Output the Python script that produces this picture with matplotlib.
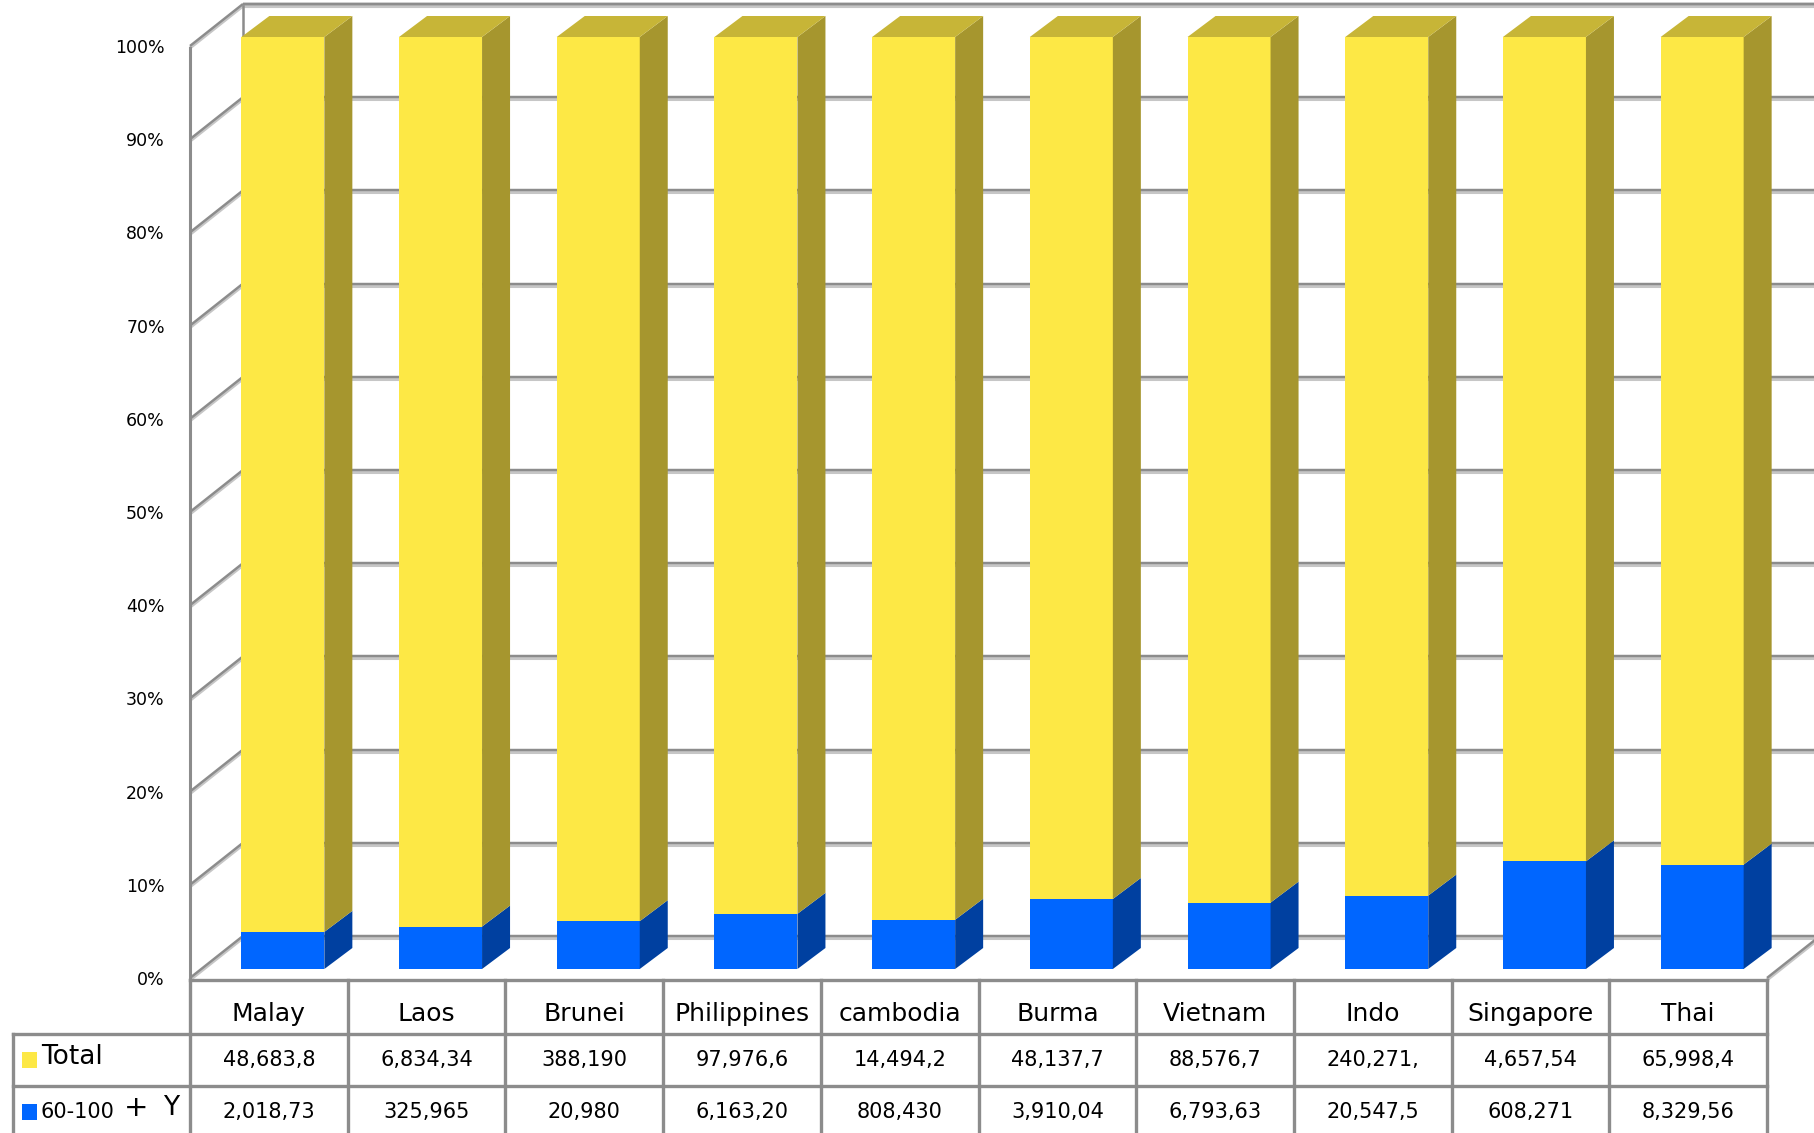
import matplotlib
matplotlib.use("Agg")
import matplotlib.pyplot as plt

countries = ["Malay", "Laos", "Brunei", "Philippines", "cambodia",
             "Burma", "Vietnam", "Indo", "Singapore", "Thai"]
total_text = ["48,683,8", "6,834,34", "388,190", "97,976,6", "14,494,2",
              "48,137,7", "88,576,7", "240,271,", "4,657,54", "65,998,4"]
old_text = ["2,018,73", "325,965", "20,980", "6,163,20", "808,430",
            "3,910,04", "6,793,63", "20,547,5", "608,271", "8,329,56"]
total = [48683.8, 6834.34, 388.190, 97976.6, 14494.2,
         48137.7, 88576.7, 240271.0, 4657.54, 65998.4]
old = [2018.73, 325.965, 20.980, 6163.20, 808.430,
       3910.04, 6793.63, 20547.5, 608.271, 8329.56]
yticks = [0, 10, 20, 30, 40, 50, 60, 70, 80, 90, 100]

plt.rcParams['font.family'] = ['DejaVu Sans']

fig = plt.figure(figsize=(18.14, 11.33), dpi=100)
ax = fig.add_axes([190 / 1814, 153 / 1133, 1577 / 1814, 932 / 1133])
ax.set_xlim(0, 10)
ax.set_ylim(0, 100)
ax.axis('off')

# oblique depth (data units)
px_x = 10 / 1577
px_y = 100 / 932
wall_dx, wall_dy = 53 * px_x, 42 * px_y
bar_ox, bar_oy = 14 * px_x, 11 * px_y
bar_dx, bar_dy = 28 * px_x, 21 * px_y
bar_w = 83 * px_x

grid_dark = '#8c8c8c'
grid_light = '#c6c6c6'

def gline(xs, ys, lw=2.2, z=1):
    ax.plot(xs, ys, color=grid_light, lw=lw, clip_on=False, zorder=z,
            solid_capstyle='butt')
    ax.plot(xs, [v + 0.22 for v in ys], color=grid_dark, lw=lw * 0.8,
            clip_on=False, zorder=z + 0.1, solid_capstyle='butt')

# back wall + left wall
for t in yticks:
    gline([wall_dx, 10 + wall_dx + 0.2], [t + wall_dy, t + wall_dy])
    gline([0, wall_dx], [t, t + wall_dy])
gline([wall_dx, 10 + wall_dx + 0.2], [100 + wall_dy, 100 + wall_dy])
ax.plot([0, 0], [0, 100], color=grid_dark, lw=2.2, clip_on=False, zorder=1)
ax.plot([wall_dx, wall_dx], [wall_dy, 100 + wall_dy], color=grid_dark, lw=1.8,
        clip_on=False, zorder=1)
# floor right edge
gline([10, 10 + wall_dx], [0, wall_dy], z=1)

for t in yticks:
    ax.text(-0.16, t, f"{t}%", ha='right', va='center', fontsize=12.5,
            clip_on=False)

yel_front, yel_top, yel_side = '#fde845', '#c7b537', '#a6962e'
blu_front, blu_side = '#0066ff', '#0040a0'

for i in range(len(countries)):
    pct = old[i] / (old[i] + total[i]) * 100
    x0 = i + 0.5 - bar_w / 2 + bar_ox
    x1 = x0 + bar_w
    y0 = bar_oy
    ym = bar_oy + pct
    y1 = bar_oy + 100
    # blue segment
    ax.fill([x0, x1, x1, x0], [y0, y0, ym, ym], color=blu_front, lw=0,
            zorder=3, clip_on=False)
    ax.fill([x1, x1 + bar_dx, x1 + bar_dx, x1],
            [y0, y0 + bar_dy, ym + bar_dy, ym], color=blu_side, lw=0,
            zorder=3, clip_on=False)
    # yellow segment
    ax.fill([x0, x1, x1, x0], [ym, ym, y1, y1], color=yel_front, lw=0,
            zorder=3, clip_on=False)
    ax.fill([x1, x1 + bar_dx, x1 + bar_dx, x1],
            [ym, ym + bar_dy, y1 + bar_dy, y1], color=yel_side, lw=0,
            zorder=3, clip_on=False)
    ax.fill([x0, x1, x1 + bar_dx, x0 + bar_dx],
            [y1, y1, y1 + bar_dy, y1 + bar_dy], color=yel_top, lw=0,
            zorder=3, clip_on=False)

# data table
r0 = 0.0
r1 = -54 * px_y
r2 = -106 * px_y
r3 = -160 * px_y
left = -177 * px_x
tc = '#8c8c8c'
ax.plot([0, 10], [r0, r0], color=tc, lw=2.4, clip_on=False, zorder=4)
for y in (r1, r2):
    ax.plot([left, 10], [y, y], color=tc, lw=2.4, clip_on=False, zorder=4)
for i in range(11):
    ax.plot([i, i], [r0, r3], color=tc, lw=2.4, clip_on=False, zorder=4)
ax.plot([left, left], [r1, r3], color=tc, lw=2.4, clip_on=False, zorder=4)

h_y = (r0 + r1) / 2 - 0.8
t_y = (r1 + r2) / 2
o_y = (r2 + r3) / 2 + 0.1
for i, c in enumerate(countries):
    ax.text(i + 0.5, h_y, c, ha='center', va='center', fontsize=18,
            clip_on=False)
    ax.text(i + 0.5, t_y, total_text[i], ha='center', va='center',
            fontsize=15, clip_on=False)
    ax.text(i + 0.5, o_y, old_text[i], ha='center', va='center',
            fontsize=15, clip_on=False)

# row labels with legend keys
sq = 15
ax.fill([left + 9 * px_x, left + (9 + sq) * px_x, left + (9 + sq) * px_x, left + 9 * px_x],
        [t_y - 8 * px_y, t_y - 8 * px_y, t_y + 8 * px_y, t_y + 8 * px_y],
        color=yel_front, lw=0, clip_on=False, zorder=5)
ax.text(left + 28 * px_x, t_y + 0.3, "Total", ha='left', va='center',
        fontsize=19, clip_on=False)
ax.fill([left + 9 * px_x, left + (9 + sq) * px_x, left + (9 + sq) * px_x, left + 9 * px_x],
        [o_y - 8 * px_y, o_y - 8 * px_y, o_y + 8 * px_y, o_y + 8 * px_y],
        color=blu_front, lw=0, clip_on=False, zorder=5)
ax.text(left + 28 * px_x, o_y, "60-100", ha='left', va='center',
        fontsize=15, clip_on=False)
ax.text(left + 111 * px_x, o_y + 0.4, "+", ha='left', va='center',
        fontsize=21, clip_on=False)
ax.text(left + 150 * px_x, o_y + 0.4, "Y", ha='left', va='center',
        fontsize=19, clip_on=False)

fig.savefig("out.png", dpi=100)
